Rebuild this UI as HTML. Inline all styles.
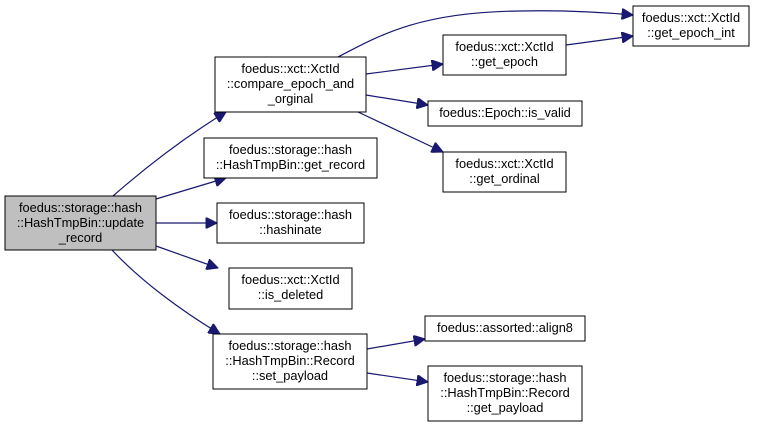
<!DOCTYPE html>
<html><head><meta charset="utf-8"><style>
html,body{margin:0;padding:0;background:#fff;width:761px;height:427px;overflow:hidden}
svg{display:block}
text{font-family:"Liberation Sans",Arial,sans-serif;font-size:12.8px;fill:#000;text-anchor:middle}
.n{fill:#fff;stroke:#000;stroke-width:1}
.e{fill:none;stroke:#191970;stroke-width:1.2}
</style></head><body>
<svg width="761" height="427" viewBox="0 0 761 427" xmlns="http://www.w3.org/2000/svg">
<defs><marker id="a" viewBox="0 0 10 10" refX="10" refY="5" markerWidth="12" markerHeight="11" markerUnits="userSpaceOnUse" orient="auto"><path d="M0,0 L10,5 L0,10 z" fill="#191970" stroke="#191970"/></marker></defs>

<path class="e" marker-end="url(#a)" d="M113,196 C145,168 185,137 226,112"/>
<path class="e" marker-end="url(#a)" d="M156,199 L226,178"/>
<path class="e" marker-end="url(#a)" d="M156,223 L217,223"/>
<path class="e" marker-end="url(#a)" d="M156,246 L218,268"/>
<path class="e" marker-end="url(#a)" d="M112,250 C140,280 180,310 220,334"/>
<path class="e" marker-end="url(#a)" d="M338,57 C380,35 420,12 520,11 C560,10 600,12 633,15"/>
<path class="e" marker-end="url(#a)" d="M366,74 L443,64"/>
<path class="e" marker-end="url(#a)" d="M366,95 L428,105"/>
<path class="e" marker-end="url(#a)" d="M358,112 L443,152"/>
<path class="e" marker-end="url(#a)" d="M566,45 L633,36"/>
<path class="e" marker-end="url(#a)" d="M367,349 L425,339"/>
<path class="e" marker-end="url(#a)" d="M367,373 L428,382"/>

<rect x="5" y="196" width="151" height="54" fill="#bfbfbf" stroke="#000"/>
<text x="80.5" y="212">foedus::storage::hash</text>
<text x="80.5" y="227">::HashTmpBin::update</text>
<text x="80.5" y="242">_record</text>

<rect class="n" x="215" y="57" width="151" height="55"/>
<text x="290.5" y="73">foedus::xct::XctId</text>
<text x="290.5" y="88">::compare_epoch_and</text>
<text x="290.5" y="103">_orginal</text>

<rect class="n" x="204" y="138" width="173" height="40"/>
<text x="290.5" y="154">foedus::storage::hash</text>
<text x="290.5" y="169">::HashTmpBin::get_record</text>

<rect class="n" x="217" y="203" width="147" height="40"/>
<text x="290.5" y="219">foedus::storage::hash</text>
<text x="290.5" y="234">::hashinate</text>

<rect class="n" x="229" y="268" width="123" height="41"/>
<text x="290.5" y="284">foedus::xct::XctId</text>
<text x="290.5" y="299">::is_deleted</text>

<rect class="n" x="213" y="334" width="154" height="55"/>
<text x="290" y="350">foedus::storage::hash</text>
<text x="290" y="365">::HashTmpBin::Record</text>
<text x="290" y="380">::set_payload</text>

<rect class="n" x="633" y="6" width="116" height="40"/>
<text x="691" y="22">foedus::xct::XctId</text>
<text x="691" y="37">::get_epoch_int</text>

<rect class="n" x="443" y="35" width="123" height="40"/>
<text x="504.5" y="51">foedus::xct::XctId</text>
<text x="504.5" y="66">::get_epoch</text>

<rect class="n" x="428" y="101" width="154" height="25"/>
<text x="505" y="117">foedus::Epoch::is_valid</text>

<rect class="n" x="443" y="152" width="123" height="40"/>
<text x="504.5" y="168">foedus::xct::XctId</text>
<text x="504.5" y="183">::get_ordinal</text>

<rect class="n" x="425" y="316" width="160" height="25"/>
<text x="505" y="332">foedus::assorted::align8</text>

<rect class="n" x="428" y="366" width="154" height="55"/>
<text x="505" y="382">foedus::storage::hash</text>
<text x="505" y="397">::HashTmpBin::Record</text>
<text x="505" y="412">::get_payload</text>
</svg>
</body></html>
